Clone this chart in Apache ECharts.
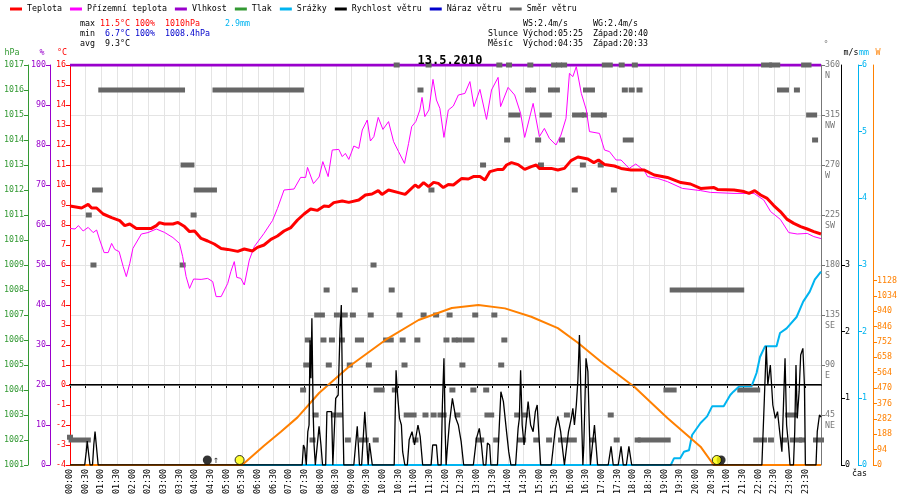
<!DOCTYPE html>
<html><head><meta charset="utf-8">
<script src="https://cdn.jsdelivr.net/npm/echarts@6/dist/echarts.min.js"></script>
<style>html,body{margin:0;padding:0;background:#fff}#c{width:900px;height:500px}</style>
</head><body><div id="c"></div>
<script>
// ---- data (hours of day, values) ----
const temperature = [[0,8.95],[0.37,8.85],[0.58,9.03],[0.69,8.85],[0.85,8.85],[1.06,8.55],[1.33,8.37],[1.59,8.22],[1.75,7.97],[1.91,8.05],[2.12,7.83],[2.6,7.83],[2.76,7.97],[2.86,8.12],[3.02,8.05],[3.29,8.05],[3.45,8.13],[3.66,7.92],[3.82,7.67],[3.98,7.7],[4.19,7.33],[4.4,7.2],[4.61,7.05],[4.83,6.83],[5.04,6.78],[5.36,6.68],[5.57,6.8],[5.83,6.7],[5.99,6.88],[6.2,7.0],[6.42,7.28],[6.63,7.45],[6.84,7.7],[7.06,7.87],[7.27,8.25],[7.48,8.55],[7.69,8.8],[7.9,8.73],[8.12,8.95],[8.27,8.92],[8.43,9.12],[8.7,9.2],[8.91,9.13],[9.23,9.25],[9.44,9.5],[9.65,9.55],[9.85,9.72],[9.97,9.53],[10.18,9.75],[10.5,9.62],[10.71,9.53],[11.03,10.0],[11.14,9.88],[11.3,10.12],[11.46,9.92],[11.62,10.13],[11.77,10.08],[11.93,9.87],[12.09,10.03],[12.25,10.0],[12.52,10.33],[12.73,10.3],[12.89,10.42],[13.1,10.42],[13.26,10.25],[13.42,10.67],[13.68,10.78],[13.84,10.78],[13.95,11.0],[14.11,11.12],[14.32,11.02],[14.53,10.78],[14.74,10.92],[14.9,11.0],[15.0,10.83],[15.38,10.83],[15.59,10.75],[15.8,10.83],[16.01,11.22],[16.23,11.4],[16.55,11.3],[16.74,11.12],[16.89,11.25],[17.08,11.03],[17.4,10.95],[17.61,10.83],[17.93,10.75],[18.35,10.75],[18.67,10.5],[19.09,10.38],[19.52,10.12],[19.83,10.05],[20.15,9.83],[20.58,9.87],[20.69,9.78],[21.22,9.75],[21.54,9.67],[21.7,9.58],[21.88,9.72],[22.07,9.5],[22.28,9.33],[22.49,8.97],[22.7,8.67],[22.92,8.28],[23.13,8.08],[23.35,7.92],[23.56,7.8],[23.77,7.67],[24,7.55]];

const groundTemperature = [[0,7.83],[0.16,7.8],[0.27,7.97],[0.42,7.7],[0.58,7.88],[0.74,7.62],[0.85,7.75],[0.95,7.25],[1.09,6.62],[1.22,6.62],[1.33,7.08],[1.43,6.78],[1.57,6.67],[1.7,5.92],[1.8,5.42],[1.91,6.08],[2.01,6.83],[2.28,7.55],[2.49,7.62],[2.76,7.8],[3.02,7.63],[3.29,7.37],[3.5,7.08],[3.6,6.42],[3.71,5.42],[3.82,4.83],[3.95,5.3],[4.19,5.28],[4.4,5.33],[4.56,5.17],[4.67,4.42],[4.83,4.42],[5.04,5.08],[5.14,5.67],[5.25,6.17],[5.33,5.38],[5.46,5.33],[5.57,5.0],[5.73,6.25],[5.89,6.92],[6.2,7.58],[6.47,8.22],[6.63,8.83],[6.84,9.75],[7.16,9.8],[7.37,10.38],[7.53,10.38],[7.59,10.88],[7.78,10.07],[7.96,10.4],[8.08,11.17],[8.25,10.42],[8.38,11.75],[8.59,11.78],[8.7,11.42],[8.8,11.58],[8.91,11.28],[9.07,11.95],[9.23,11.83],[9.34,12.75],[9.5,13.25],[9.6,12.2],[9.71,12.42],[9.85,13.38],[10.0,12.78],[10.18,13.17],[10.34,12.17],[10.5,11.67],[10.69,11.08],[10.82,12.08],[10.92,12.92],[11.05,13.17],[11.18,13.75],[11.25,14.38],[11.34,13.42],[11.47,13.75],[11.6,15.28],[11.71,14.25],[11.82,13.83],[11.95,12.38],[12.09,13.75],[12.25,13.95],[12.41,14.5],[12.62,14.58],[12.78,15.17],[12.91,13.92],[13.1,14.78],[13.31,13.28],[13.47,14.75],[13.68,15.38],[13.76,13.92],[14.0,14.88],[14.21,14.5],[14.4,13.58],[14.53,12.38],[14.8,14.08],[15.0,12.42],[15.16,12.83],[15.32,12.33],[15.53,12.0],[15.69,12.5],[15.85,13.33],[15.96,15.58],[16.07,15.42],[16.18,15.92],[16.34,14.58],[16.5,13.75],[16.6,12.67],[16.92,12.58],[17.08,11.75],[17.24,11.67],[17.45,11.25],[17.61,11.25],[17.87,10.83],[18.08,11.05],[18.35,10.72],[18.46,10.42],[18.78,10.33],[19.09,10.17],[19.57,9.83],[20.15,9.72],[20.47,9.63],[21.22,9.58],[21.86,9.58],[22.17,9.25],[22.39,8.67],[22.7,8.28],[22.97,7.62],[23.24,7.55],[23.56,7.58],[23.77,7.42],[24,7.32]];

const humidity = [[0,100],[24,100]];
const pressure = [];
const gust = [];

const rain = [[0,0],[19.2,0],[19.3,0.1],[19.5,0.1],[19.62,0.2],[19.78,0.22],[19.88,0.45],[20.15,0.63],[20.36,0.73],[20.52,0.88],[20.89,0.88],[21.1,1.05],[21.2,1.1],[21.39,1.18],[21.78,1.18],[21.94,1.38],[22.05,1.62],[22.21,1.78],[22.58,1.78],[22.69,1.98],[22.9,2.05],[23.22,2.22],[23.43,2.45],[23.64,2.6],[23.8,2.78],[24,2.9]];

const solar = [[0,0],[5.5,0],[6.2,118],[6.74,203],[7.27,291],[7.96,440],[8.94,605],[10.08,764],[11.14,886],[12.2,959],[13.05,977],[13.9,957],[14.74,906],[15.59,836],[16.23,747],[16.97,631],[18.03,478],[19.09,287],[20.15,112],[20.57,0],[24,0]];

const windSpeed = [[0,0],[0.47,0],[0.52,0.2],[0.55,0.36],[0.6,0.15],[0.64,0],[0.72,0],[0.76,0.3],[0.8,0.5],[0.84,0.3],[0.9,0],
[7.42,0],[7.46,0.3],[7.5,0.25],[7.55,0],[7.6,0.5],[7.64,0.6],[7.67,1.87],[7.7,1.3],[7.73,2.2],[7.77,0.8],[7.8,0.3],[7.84,0],[7.9,0],[7.96,0.58],[8.02,0.3],[8.07,0],
[8.17,0],[8.21,0.8],[8.36,0.8],[8.4,0],[8.45,0],[8.49,1.0],[8.57,1.05],[8.63,2.03],[8.67,2.4],[8.71,1.0],[8.75,0],
[9.07,0],[9.18,0.58],[9.25,0],[9.32,0],[9.42,0.8],[9.5,0.2],[9.53,0],[9.57,0.33],[9.66,0],
[10.36,0],[10.42,1.42],[10.46,1.1],[10.53,0.7],[10.59,0.6],[10.63,0.2],[10.7,0],
[10.78,0],[10.84,0.38],[10.93,0.5],[11.01,0.3],[11.12,0.6],[11.19,0.43],[11.27,0],
[11.54,0],[11.59,0.3],[11.71,0.3],[11.76,0],[11.86,0],[11.9,0.9],[11.95,1.6],[11.99,0.5],[12.02,0],
[12.05,0.2],[12.12,0.6],[12.22,1.0],[12.33,0.7],[12.41,0.6],[12.5,0.35],[12.58,0],
[12.89,0],[12.99,0.4],[13.08,0.55],[13.15,0.3],[13.21,0],[13.29,0],[13.34,0.33],[13.41,0.3],[13.45,0],
[13.66,0],[13.77,1.1],[13.85,0.95],[13.95,0.5],[14.02,0.2],[14.09,0],
[14.24,0],[14.32,0.55],[14.36,0.7],[14.4,1.42],[14.45,0.6],[14.51,0.3],[14.59,0.7],[14.64,0.95],[14.72,0.6],[14.8,0.5],[14.87,0.8],[14.93,0.9],[14.99,0.4],[15.04,0],
[15.38,0],[15.51,0.55],[15.59,0.73],[15.68,0.5],[15.75,0.2],[15.8,0],
[15.86,0],[15.93,0.5],[16.02,0.7],[16.07,0.85],[16.12,0.6],[16.18,0.9],[16.23,1.27],[16.28,1.95],[16.33,1.0],[16.39,0],
[16.42,0.3],[16.49,1.6],[16.55,1.4],[16.6,0.5],[16.63,0],[16.69,0],[16.76,0.6],[16.81,0.3],[16.86,0],
[17.2,0],[17.29,0.28],[17.36,0],[17.52,0],[17.61,0.28],[17.68,0],[17.78,0],[17.86,0.28],[17.95,0],
[22.11,0],[22.19,1.0],[22.25,1.78],[22.3,1.2],[22.38,1.5],[22.46,0.9],[22.54,0.7],[22.61,0.8],[22.69,0.45],[22.75,0.2],[22.8,0.9],[22.85,1.6],[22.9,0.6],[22.96,0.3],[23.01,0],
[23.12,0],[23.16,0.5],[23.2,1.5],[23.24,0.7],[23.3,1.1],[23.35,1.65],[23.42,1.75],[23.47,1.2],[23.5,0],
[23.84,0],[23.88,0.5],[23.95,0.75],[24,0.72]];

// wind direction: [from hour, to hour, degrees]
const windDirection = [[0,0,25],[0.05,0.57,22.5],[0.6,0.6,225],[0.75,0.75,180],[0.8,0.95,247.5],[1.0,3.58,337.5],[3.6,3.6,180],[3.63,3.88,270],[3.95,3.95,225],[4.05,4.6,247.5],[4.65,7.38,337.5],
[7.45,7.45,67.5],[7.55,7.55,90],[7.6,7.6,112.5],[7.75,7.75,22.5],[7.85,7.85,45],[7.9,8.05,135],[8.1,8.1,112.5],[8.2,8.2,157.5],[8.27,8.27,90],[8.37,8.37,112.5],[8.43,8.43,45],[8.53,8.53,135],[8.62,8.62,45],[8.69,8.69,112.5],[8.78,8.78,135],[8.88,8.88,22.5],[8.94,8.94,90],[9.04,9.04,135],[9.1,9.1,157.5],[9.2,9.3,112.5],[9.33,9.45,22.5],[9.55,9.55,90],[9.61,9.61,135],[9.7,9.7,180],[9.77,9.77,22.5],[9.8,9.96,67.5],
[10.1,10.25,112.5],[10.28,10.28,157.5],[10.38,10.38,67.5],[10.44,10.44,360],[10.53,10.53,135],[10.63,10.63,112.5],[10.69,10.69,90],[10.76,10.98,45],[11.04,11.04,22.5],[11.1,11.1,112.5],[11.2,11.2,337.5],[11.3,11.3,135],[11.36,11.36,45],[11.46,11.46,360],[11.55,11.55,247.5],[11.62,11.62,45],[11.7,11.7,135],[11.84,11.94,45],
[12.03,12.03,112.5],[12.13,12.13,135],[12.22,12.22,67.5],[12.29,12.29,112.5],[12.38,12.38,45],[12.44,12.44,112.5],[12.54,12.54,90],[12.64,12.83,112.5],[12.89,12.89,67.5],[12.95,12.95,135],[13.05,13.14,22.5],[13.2,13.2,270],[13.3,13.3,67.5],[13.34,13.46,45],[13.56,13.56,135],[13.62,13.62,22.5],[13.72,13.72,360],[13.78,13.78,90],[13.88,13.88,112.5],[13.97,13.97,292.5],
[14.03,14.03,360],[14.1,14.3,315],[14.29,14.29,45],[14.39,14.48,22.5],[14.55,14.55,45],[14.64,14.64,337.5],[14.8,14.8,337.5],[14.71,14.71,360],[14.9,14.9,22.5],[14.96,14.96,292.5],[15.05,15.05,270],[15.1,15.3,315],[15.31,15.31,22.5],[15.37,15.37,337.5],[15.47,15.47,360],[15.56,15.56,337.5],[15.63,15.63,360],[15.69,15.75,22.5],[15.72,15.72,292.5],[15.79,15.79,360],[15.88,15.88,45],[15.91,16.1,22.5],
[16.13,16.13,247.5],[16.14,16.33,315],[16.39,16.39,270],[16.45,16.45,315],[16.49,16.68,337.5],[16.71,16.71,22.5],[16.74,16.93,315],[16.96,16.96,270],[17.06,17.06,315],[17.09,17.25,360],[17.28,17.28,45],[17.38,17.38,247.5],[17.47,17.47,22.5],[17.63,17.63,360],[17.73,17.73,337.5],[17.76,17.92,292.5],[17.95,17.95,337.5],[18.05,18.05,360],[18.14,18.14,22.5],[18.2,18.2,337.5],[18.24,19.1,22.5],
[19.06,19.29,67.5],[19.26,21.45,157.5],[21.42,21.96,67.5],[21.93,22.18,22.5],[22.18,22.34,360],[22.4,22.4,22.5],[22.44,22.6,360],[22.69,22.69,337.5],[22.82,22.82,22.5],[22.88,22.88,337.5],[22.95,23.17,45],[23.1,23.3,22.5],[23.23,23.23,337.5],[23.39,23.39,22.5],[23.46,23.6,360],[23.62,23.78,315],[23.81,23.81,292.5],[23.84,24,22.5]];

const sunEvents = [[5.42,0],[20.67,0]];
const moonRise = [[4.58,0]];
const moonSet = [[20.55,0]];

const legendNames = ['Teplota','Přízemní teplota','Vlhkost','Tlak','Srážky','Rychlost větru','Náraz větru','Směr větru'];
const dirTicks = [45,90,135,180,225,270,315,360];
const dirNames = {45:'NE',90:'E',135:'SE',180:'S',225:'SW',270:'W',315:'NW',360:'N'};
const speedTicks = [0,1,2,3];
const solarTicks = [0,94,188,282,376,470,564,658,752,846,940,1034,1128];

const FONT = 'DejaVu Sans Mono';
const FS = 8.3;
const C = {temp:'#ff0000', ground:'#ff00ff', hum:'#9900cc', pres:'#339933', rain:'#00b4f0', wind:'#000000', gust:'#0000cc', dir:'#666666', solar:'#ff8000'};

function hhmm(v){
  if (v >= 24) return '';
  const h = Math.floor(v + 1e-6), m = Math.round((v - h) * 60);
  return String(h).padStart(2,'0') + ':' + String(m).padStart(2,'0');
}
const plain = v => String(v);
function yAxisBase(color, pos, offset, namePad, extra){
  return Object.assign({
    type:'value', position:pos, offset:offset,
    axisLine:{show:true, lineStyle:{color:color, width:1}},
    axisTick:{show:true, length:4, lineStyle:{color:color}},
    axisLabel:{color:color, fontFamily:FONT, fontSize:FS, margin:4, formatter:plain},
    splitLine:{show:false},
    nameTextStyle:{color:color, fontFamily:FONT, fontSize:FS, align:'center', padding:namePad},
    nameGap:8
  }, extra);
}

const chart = echarts.init(document.getElementById('c'), null, {renderer:'canvas'});
const txt = (x,y,text,color) => ({type:'text', x:x, y:y, style:{text:text, fill:color, font: FS+'px "'+FONT+'"', textVerticalAlign:'middle'}});

chart.setOption({
  animation:false,
  backgroundColor:'#fff',
  textStyle:{fontFamily:FONT},
  title:{text:'13.5.2010', left:'center', top:50, textStyle:{fontFamily:FONT, fontSize:12, fontWeight:'bold', color:'#000'}},
  legend:{data:legendNames, left:10, top:5, padding:0, itemGap:8, itemWidth:12, itemHeight:3, icon:'rect',
    textStyle:{fontFamily:FONT, fontSize:FS, color:'#000'}, selectedMode:false},
  grid:{left:70, right:77, top:65, bottom:35},
  xAxis:{type:'value', min:0, max:24, interval:0.5,
    axisLine:{lineStyle:{color:'#000', width:2}}, axisTick:{length:3, lineStyle:{color:'#000'}},
    axisLabel:{rotate:90, formatter:hhmm, fontFamily:FONT, fontSize:FS, color:'#000', margin:4, showMaxLabel:false},
    splitLine:{show:true, lineStyle:{color:'#e4e4e4', width:1}}},
  yAxis:[
    yAxisBase(C.temp,'left',0,[0,16,0,0],{min:-4,max:16,interval:1,name:'°C'}),
    yAxisBase(C.hum,'left',20,[0,16,0,0],{min:0,max:100,interval:10,name:'%'}),
    yAxisBase(C.pres,'left',42,[0,32,0,0],{min:1001,max:1017,interval:1,name:'hPa'}),
    yAxisBase('#777','right',0,[0,0,0,10],{min:0,max:360,interval:45,name:'°',
      axisLabel:{color:'#777', fontFamily:FONT, fontSize:FS, margin:4, lineHeight:11, customValues:dirTicks, formatter:v=>' \n'+v+'\n'+dirNames[v]},
      axisTick:{show:true,length:4,lineStyle:{color:'#777'},customValues:dirTicks},
      splitLine:{show:true, lineStyle:{color:'#e4e4e4', width:1}}}),
    yAxisBase('#000','right',20,[0,0,0,20],{min:0,max:6,interval:1,name:'m/s',
      axisLabel:{color:'#000', fontFamily:FONT, fontSize:FS, margin:4, customValues:speedTicks, formatter:plain},
      axisTick:{show:true,length:4,lineStyle:{color:'#000'},customValues:speedTicks}}),
    yAxisBase(C.rain,'right',37,[0,0,0,12],{min:0,max:6,interval:1,name:'mm'}),
    yAxisBase(C.solar,'right',52,[0,0,0,10],{min:0,max:2444,interval:94,name:'W',
      axisLabel:{color:C.solar, fontFamily:FONT, fontSize:FS, margin:4, customValues:solarTicks, formatter:plain},
      axisTick:{show:true,length:4,lineStyle:{color:C.solar},customValues:solarTicks}})
  ],
  graphic:[
    txt(80,24,'max',  '#000'), txt(100,24,'11.5°C','#ff0000'), txt(135,24,'100%','#ff0000'), txt(165,24,'1010hPa','#ff0000'), txt(225,24,'2.9mm',C.rain),
    txt(80,34,'min',  '#000'), txt(105,34,'6.7°C','#0000cc'), txt(135,34,'100%','#0000cc'), txt(165,34,'1008.4hPa','#0000cc'),
    txt(80,44,'avg',  '#000'), txt(105,44,'9.3°C','#000'),
    txt(523,24,'WS:2.4m/s','#000'), txt(593,24,'WG:2.4m/s','#000'),
    txt(488,34,'Slunce','#000'), txt(523,34,'Východ:05:25','#000'), txt(593,34,'Západ:20:40','#000'),
    txt(488,44,'Měsíc','#000'), txt(523,44,'Východ:04:35','#000'), txt(593,44,'Západ:20:33','#000'),
    txt(852,474,'čas','#000')
  ],
  series:[
    {name:'Vlhkost', type:'line', yAxisIndex:1, data:humidity, showSymbol:false, lineStyle:{color:C.hum,width:3}, itemStyle:{color:C.hum}, z:2},
    {name:'Tlak', type:'line', yAxisIndex:2, data:pressure, showSymbol:false, lineStyle:{color:C.pres,width:2}, itemStyle:{color:C.pres}},
    {name:'Směr větru', type:'custom', yAxisIndex:3, data:windDirection, encode:{x:[0,1], y:2}, itemStyle:{color:C.dir}, z:3,
      renderItem:function(params, api){
        const p1 = api.coord([api.value(0), api.value(2)]);
        const p2 = api.coord([api.value(1), api.value(2)]);
        return {type:'rect', shape:{x:p1[0]-3, y:p1[1]-2.5, width:p2[0]-p1[0]+6, height:5}, style:{fill:C.dir}};
      }},
    {name:'Přízemní teplota', type:'line', yAxisIndex:0, data:groundTemperature, showSymbol:false, lineStyle:{color:C.ground,width:1}, itemStyle:{color:C.ground}, z:4},
    {name:'Teplota', type:'line', yAxisIndex:0, data:temperature, showSymbol:false, lineStyle:{color:C.temp,width:3}, itemStyle:{color:C.temp}, z:5,
      markLine:{silent:true, symbol:'none', label:{show:false}, lineStyle:{color:'#666', width:1, type:'solid'}, data:[{yAxis:0}]}},
    {name:'Srážky', type:'line', yAxisIndex:5, data:rain, showSymbol:false, lineStyle:{color:C.rain,width:2}, itemStyle:{color:C.rain}, z:4},
    {name:'Solar', type:'line', yAxisIndex:6, data:solar, showSymbol:false, lineStyle:{color:C.solar,width:2}, itemStyle:{color:C.solar}, z:4},
    {name:'Rychlost větru', type:'line', yAxisIndex:4, data:windSpeed, showSymbol:false, lineStyle:{color:C.wind,width:1.3}, itemStyle:{color:C.wind}, z:6},
    {name:'Náraz větru', type:'line', yAxisIndex:4, data:gust, showSymbol:false, lineStyle:{color:C.gust,width:1}, itemStyle:{color:C.gust}},
    {name:'moonRise', type:'scatter', yAxisIndex:5, data:moonRise, symbol:'circle', symbolSize:9, symbolOffset:[-6,-5], itemStyle:{color:'#000'}, z:8,
      label:{show:true, formatter:'↑', position:'right', distance:1, color:'#000', fontSize:10, fontFamily:FONT}},
    {name:'moonSet', type:'scatter', yAxisIndex:5, data:moonSet, symbol:'circle', symbolSize:9, symbolOffset:[8,-5], itemStyle:{color:'#000'}, z:8},
    {name:'sun', type:'scatter', yAxisIndex:5, data:sunEvents, symbol:'circle', symbolSize:9, symbolOffset:[0,-5], itemStyle:{color:'#ffff00', borderColor:'#000', borderWidth:1}, z:9}
  ]
});
</script></body></html>
